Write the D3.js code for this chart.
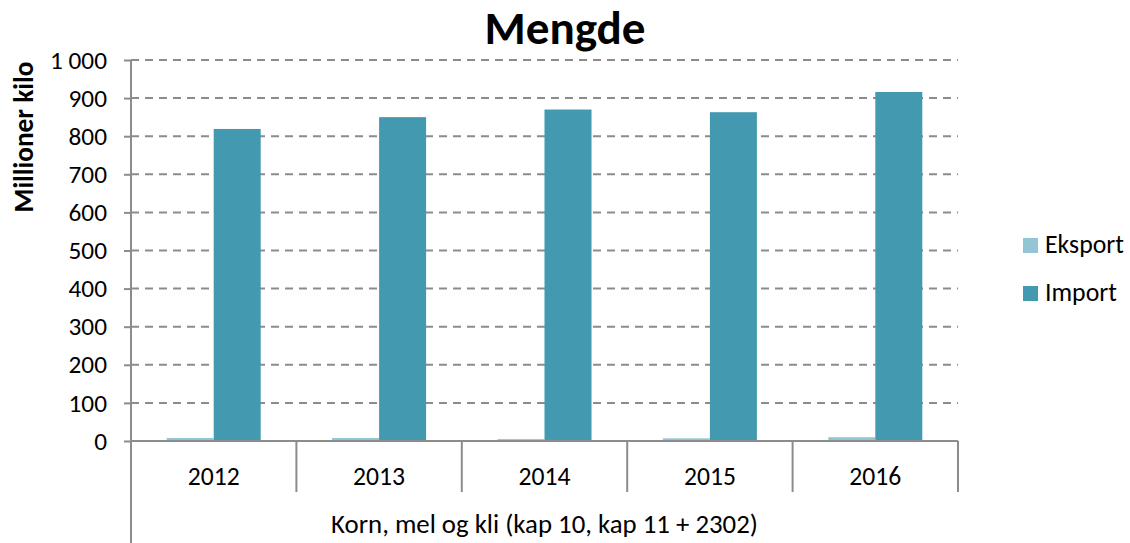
<!DOCTYPE html>
<html>
<head>
<meta charset="utf-8">
<script src="https://cdn.jsdelivr.net/npm/d3@7.9.0/dist/d3.min.js"></script>
<style>
  html, body { margin: 0; padding: 0; background: #fff; }
  svg { display: block; font-family: Carlito, Lato, "Open Sans", sans-serif; }
</style>
</head>
<body>
<svg id="chart" width="1130" height="543"></svg>
<script>
// chart data
const years = ['2012', '2013', '2014', '2015', '2016'];
const series = ['Eksport', 'Import'];
const eksport = [8, 8, 5, 7, 10];
const importVals = [819, 850, 870, 863, 916];
const yTicks = [0, 100, 200, 300, 400, 500, 600, 700, 800, 900, 1000];
const yTickLabels = ['0', '100', '200', '300', '400', '500', '600', '700', '800', '900', '1 000'];
const groupLabel = 'Korn, mel og kli (kap 10, kap 11 + 2302)';

const colors = { Eksport: '#93c5d5', Import: '#4399b0' };
const gridColor = '#8c8c8c';
const fontFamily = 'Carlito, Lato, "Open Sans", sans-serif';

const svg = d3.select('#chart');

// no Calibri here, so size the fallback font by the width the reference text has
function fitSize(text, width, weight) {
  const t = svg.append('text').attr('font-size', 100)
    .attr('font-family', fontFamily).attr('font-weight', weight || 'normal').text(text);
  const w = t.node().getComputedTextLength();
  t.remove();
  return 100 * width / w;
}
const tickSize = fitSize('1 000', 57);
const yearSize = fitSize('2012', 52);
const groupSize = fitSize(groupLabel, 427);
const titleSize = fitSize('Mengde', 161, 'bold');
const yTitleSize = fitSize('Millioner kilo', 151, 'bold');
const legendSize = fitSize('Eksport', 79);

// plot area
const plotLeft = 131, plotRight = 958, plotTop = 60, plotBottom = 441;

const y = d3.scaleLinear().domain([0, 1000]).range([plotBottom, plotTop]);
const x = d3.scaleBand().domain(years).range([plotLeft, plotRight]).padding(0);
const xs = d3.scaleBand().domain(series)
  .range([35.7, x.bandwidth() - 35.7]).padding(0);

// dashed gridlines
svg.append('g')
  .selectAll('line')
  .data(yTicks.filter(d => d > 0))
  .join('line')
  .attr('x1', plotLeft).attr('x2', plotRight)
  .attr('y1', d => y(d)).attr('y2', d => y(d))
  .attr('stroke', gridColor)
  .attr('stroke-width', 2)
  .attr('stroke-dasharray', '8,6');

// rows of bars: one row per year
const rows = years.map((yr, i) => ({ year: yr, Eksport: eksport[i], Import: importVals[i] }));

svg.append('g')
  .selectAll('g')
  .data(rows)
  .join('g')
  .attr('transform', d => `translate(${x(d.year)},0)`)
  .selectAll('rect')
  .data(d => series.map(s => ({ key: s, value: d[s] })))
  .join('rect')
  .attr('x', d => xs(d.key))
  .attr('width', xs.bandwidth())
  .attr('y', d => y(d.value))
  .attr('height', d => y(0) - y(d.value))
  .attr('fill', d => colors[d.key]);

// y axis
const yAxis = svg.append('g')
  .attr('transform', `translate(${plotLeft},0)`)
  .call(d3.axisLeft(y).tickValues(yTicks).tickSize(7).tickPadding(17)
    .tickFormat((d, i) => yTickLabels[i]));
yAxis.select('.domain').attr('stroke', gridColor).attr('stroke-width', 2)
  .attr('d', `M0,${plotTop}V543`);
yAxis.selectAll('.tick line').attr('stroke', gridColor).attr('stroke-width', 2);
yAxis.selectAll('.tick text')
  .attr('font-size', tickSize)
  .attr('fill', '#000')
  .attr('font-family', fontFamily);

// x axis baseline and category separators
svg.append('line')
  .attr('x1', plotLeft).attr('x2', plotRight)
  .attr('y1', plotBottom).attr('y2', plotBottom)
  .attr('stroke', gridColor).attr('stroke-width', 2);

svg.append('g')
  .selectAll('line')
  .data(years.slice(1).map(d => x(d)).concat([plotRight]))
  .join('line')
  .attr('x1', d => d).attr('x2', d => d)
  .attr('y1', plotBottom).attr('y2', 492)
  .attr('stroke', gridColor).attr('stroke-width', 2);

svg.append('g')
  .selectAll('text')
  .data(years)
  .join('text')
  .attr('x', d => x(d) + x.bandwidth() / 2)
  .attr('y', 485)
  .attr('text-anchor', 'middle')
  .attr('font-size', yearSize)
  .text(d => d);

svg.append('text')
  .attr('x', (plotLeft + plotRight) / 2)
  .attr('y', 533)
  .attr('text-anchor', 'middle')
  .attr('font-size', groupSize)
  .text(groupLabel);

// title
svg.append('text')
  .attr('x', 565)
  .attr('y', 44)
  .attr('text-anchor', 'middle')
  .attr('font-size', titleSize)
  .attr('font-weight', 'bold')
  .text('Mengde');

// y axis title
svg.append('text')
  .attr('transform', 'translate(33,137) rotate(-90)')
  .attr('text-anchor', 'middle')
  .attr('font-size', yTitleSize)
  .attr('font-weight', 'bold')
  .text('Millioner kilo');

// legend
const legend = svg.append('g')
  .selectAll('g')
  .data(series)
  .join('g')
  .attr('transform', (d, i) => `translate(1023,${238 + i * 48})`);
legend.append('rect')
  .attr('width', 15).attr('height', 15)
  .attr('fill', d => colors[d]);
legend.append('text')
  .attr('x', 22).attr('y', 15)
  .attr('font-size', legendSize)
  .text(d => d);
</script>
</body>
</html>
